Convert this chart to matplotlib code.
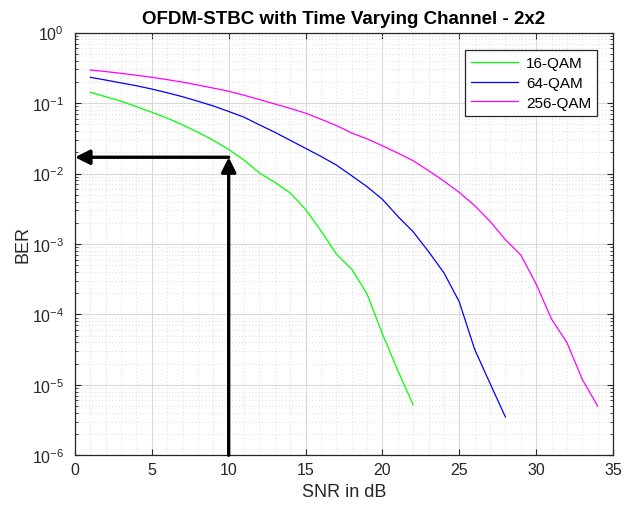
import matplotlib
matplotlib.use("Agg")
import matplotlib.pyplot as plt
import numpy as np

# Data
snr_16 = list(range(1, 23))
ber_16 = [0.142, 0.123, 0.106, 0.089, 0.074, 0.061, 0.049, 0.0385, 0.0296, 0.022,
          0.0155, 0.0102, 0.0075, 0.0053, 0.0031, 0.00154, 0.00072, 0.00044,
          0.000195, 5.3e-5, 1.6e-5, 5.2e-6]

snr_64 = list(range(1, 29))
ber_64 = [0.232, 0.212, 0.193, 0.176, 0.158, 0.14, 0.123, 0.106, 0.091, 0.076,
          0.063, 0.049, 0.0385, 0.0296, 0.0228, 0.0175, 0.0132, 0.0093, 0.0065,
          0.0043, 0.00247, 0.00149, 0.00078, 0.00039, 0.000151, 3.2e-5, 1.05e-5,
          3.5e-6]

snr_256 = list(range(1, 35))
ber_256 = [0.294, 0.280, 0.264, 0.248, 0.232, 0.215, 0.198, 0.180, 0.163, 0.147,
           0.129, 0.112, 0.097, 0.084, 0.072, 0.059, 0.048, 0.0376, 0.031, 0.0248,
           0.0195, 0.0152, 0.011, 0.0078, 0.0054, 0.0035, 0.0021, 0.00115, 0.0007,
           0.00027, 8.6e-5, 4.0e-5, 1.2e-5, 5.0e-6]

labels = ["16-QAM", "64-QAM", "256-QAM"]
colors = ["#00ff00", "#0000ff", "#ff00ff"]

x_ticks = [0, 5, 10, 15, 20, 25, 30, 35]
y_exponents = [-6, -5, -4, -3, -2, -1, 0]

arrow_snr = 10
arrow_ber = 0.017

title = "OFDM-STBC with Time Varying Channel - 2x2"
xlabel = "SNR in dB"
ylabel = "BER"

plt.rcParams['font.family'] = ['Liberation Sans', 'DejaVu Sans']
plt.rcParams['mathtext.fontset'] = 'custom'
plt.rcParams['mathtext.rm'] = 'Liberation Sans'
plt.rcParams['mathtext.it'] = 'Liberation Sans:italic'
plt.rcParams['mathtext.bf'] = 'Liberation Sans:bold'

fig = plt.figure(figsize=(6.3, 5.06), dpi=100)
ax = fig.add_axes([0.119, 0.0982, 0.854, 0.8354])

for x, y, lab, c in zip([snr_16, snr_64, snr_256], [ber_16, ber_64, ber_256], labels, colors):
    ax.semilogy(x, y, color=c, lw=0.9, label=lab)

ax.set_xlim(0, 35)
ax.set_ylim(1e-6, 1)
ax.set_xticks(x_ticks)
ax.set_yticks([10.0 ** e for e in y_exponents],
              [r'$10^{%d}$' % e for e in y_exponents])
minor_y = [m * 10.0 ** e for e in y_exponents[:-1] for m in range(2, 10)]
ax.set_yticks(minor_y, minor=True)
ax.yaxis.set_minor_formatter(matplotlib.ticker.NullFormatter())

ax.grid(True, which='major', color='#d9d9d9', lw=0.8, ls='-')
ax.grid(True, which='minor', color='#cfcfcf', lw=0.6, ls=(0, (1, 3)))
ax.xaxis.set_minor_locator(matplotlib.ticker.AutoMinorLocator(5))
ax.tick_params(which='both', direction='in', top=True, right=True, labelsize=11.5,
               colors='#262626')
ax.tick_params(which='major', length=4)
ax.tick_params(axis='x', which='major', pad=5)
ax.tick_params(axis='y', which='major', pad=8)
ax.tick_params(which='minor', length=2)
ax.tick_params(axis='x', which='minor', top=False, bottom=False)
for s in ax.spines.values():
    s.set_color('#262626')
    s.set_linewidth(0.9)
ax.set_axisbelow(True)

ax.set_title(title, fontsize=13.5, fontweight='bold', pad=7)
ax.set_xlabel(xlabel, fontsize=13, color='#262626', labelpad=4)
ax.set_ylabel(ylabel, fontsize=13, color='#262626', labelpad=0)

leg = ax.legend(loc='upper right', bbox_to_anchor=(0.985, 0.977), fontsize=11,
                frameon=True, fancybox=False, framealpha=1, edgecolor='#262626',
                handlelength=3.1, handletextpad=0.5, borderpad=0.4, labelspacing=0.38)
leg.get_frame().set_linewidth(0.9)

ax.annotate('', xy=(0, arrow_ber), xytext=(arrow_snr, arrow_ber),
            arrowprops=dict(arrowstyle='-|>', lw=2.4, color='k', mutation_scale=22,
                            shrinkA=0, shrinkB=0), annotation_clip=False)
ax.annotate('', xy=(arrow_snr, arrow_ber), xytext=(arrow_snr, 1e-6),
            arrowprops=dict(arrowstyle='-|>', lw=2.4, color='k', mutation_scale=22,
                            shrinkA=0, shrinkB=0), annotation_clip=False)

fig.savefig('out.png', dpi=100)
